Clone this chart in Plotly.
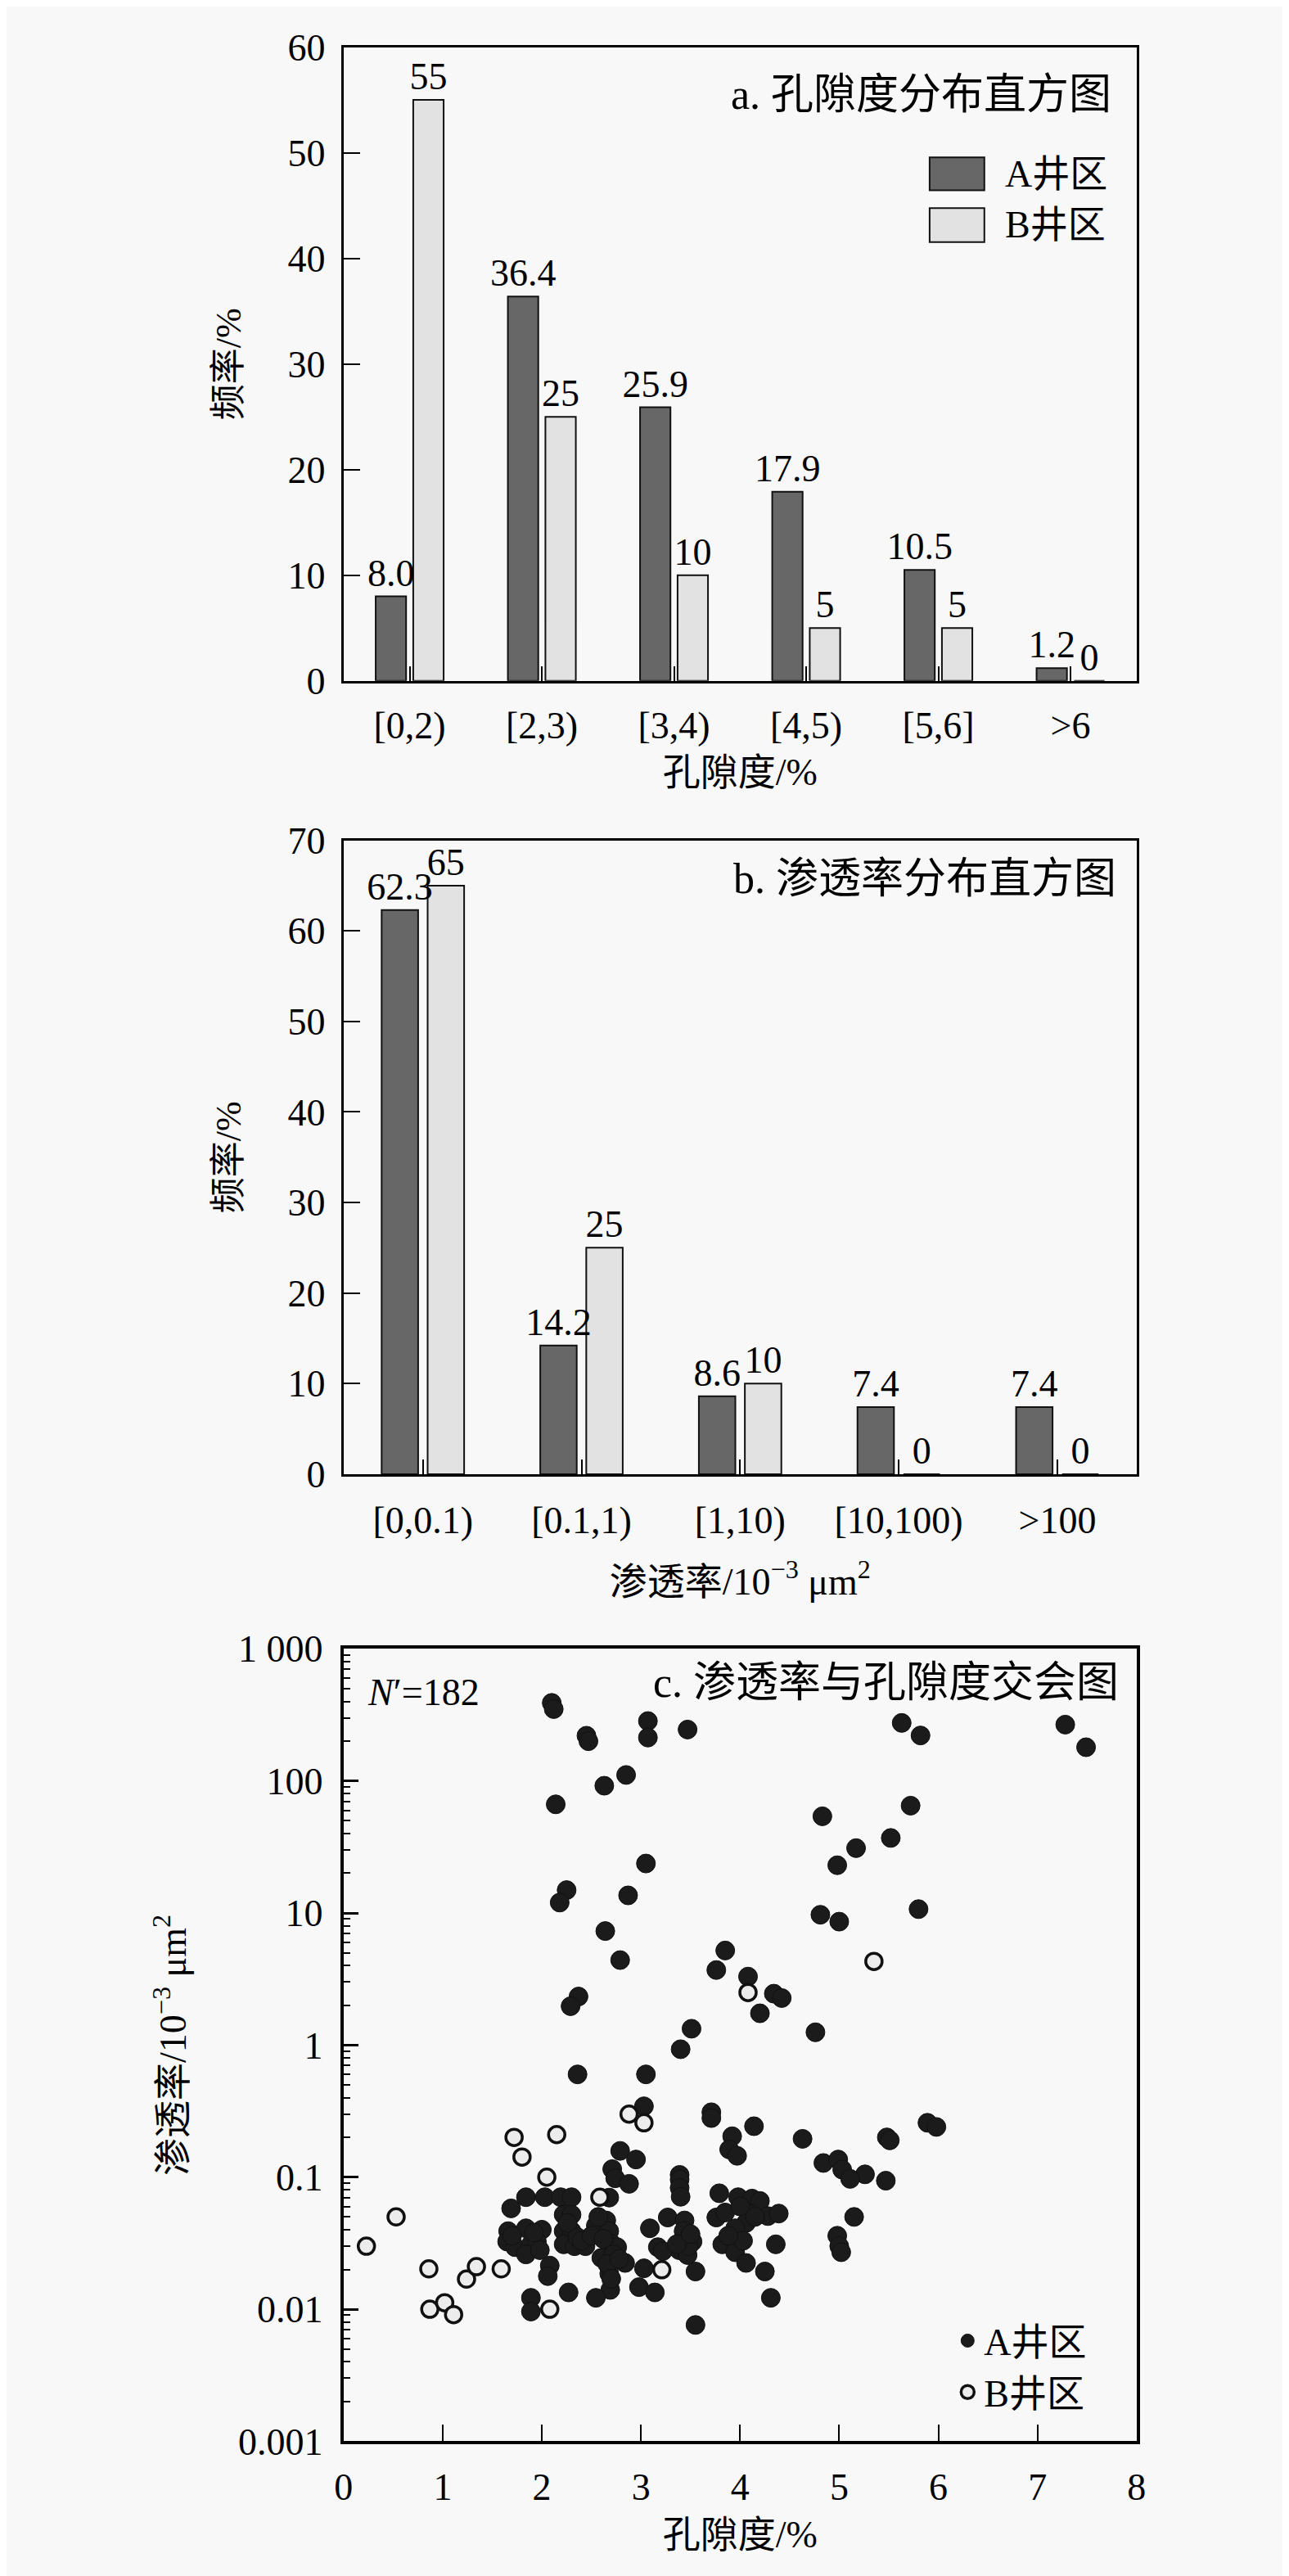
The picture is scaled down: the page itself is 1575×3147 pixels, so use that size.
import plotly.graph_objects as go

# a. porosity histogram (%)
por_bins = ["[0,2)", "[2,3)", "[3,4)", "[4,5)", "[5,6]", ">6"]
por_a = [8.0, 36.4, 25.9, 17.9, 10.5, 1.2]
por_b = [55, 25, 10, 5, 5, 0]

# b. permeability histogram (%)
perm_bins = ["[0,0.1)", "[0.1,1)", "[1,10)", "[10,100)", ">100"]
perm_a = [62.3, 14.2, 8.6, 7.4, 7.4]
perm_b = [65, 25, 10, 0, 0]

# c. crossplot, A well area (porosity %, permeability 10^-3 um2)
a_por = [2.10, 2.12, 2.45, 2.47, 3.07, 3.07, 3.47, 5.63, 5.82, 7.28, 7.49, 2.85,
         2.63, 2.14, 4.83, 5.72, 5.52, 5.17, 4.98, 3.05, 2.25, 2.18, 2.87, 5.80,
         4.81, 5.00, 2.64, 2.79, 3.85, 3.76, 4.08, 4.34, 4.42, 4.20, 2.37, 2.29, 3.51, 4.76,
         3.40, 2.36, 3.05, 3.03, 3.71, 3.71, 4.14, 3.92, 3.89, 3.97, 4.63, 5.48,
         5.51, 5.89, 5.98, 2.79, 2.95, 2.71, 4.84, 4.99, 5.03, 5.26, 3.39,
         2.74, 2.88, 2.68, 1.84, 2.03, 2.19, 2.30, 1.69, 1.66, 1.65,
         1.73, 1.84, 2.00, 1.89, 1.95, 1.84, 2.22, 2.30, 2.22, 2.30,
         2.22, 2.33, 2.44, 2.545, 2.65, 2.68, 2.71, 2.76, 2.60, 2.84,
         2.68, 2.69, 3.03, 3.09, 3.17, 2.08, 2.06, 2.27, 2.545, 1.89,
         1.89, 2.98, 3.14, 3.39, 3.39, 3.40, 3.27, 3.44, 3.44, 3.52,
         3.385, 3.47, 3.22, 3.55, 3.55, 3.79, 3.98, 4.12, 4.20, 3.76,
         3.85, 4.09, 4.06, 4.28, 4.39, 3.95, 3.82, 3.95, 4.06, 4.36,
         4.25, 4.31, 5.15, 4.98, 5.00, 5.02, 5.11, 5.47,
         1.70, 1.92, 2.26, 2.36, 2.40, 2.50, 2.57, 2.62, 2.72, 2.66,
         2.78, 2.70, 3.43, 3.48, 3.36, 3.50, 4.00, 4.03, 3.88, 4.15, 1.98]
a_perm = [390, 350, 220, 200, 284, 213, 245, 275, 221, 267, 180, 111,
          92, 66.5, 54, 65, 37, 31, 23, 23.7, 14.9, 12, 13.6, 10.7,
          9.7, 8.6, 7.3, 4.4, 5.2, 3.7, 3.3, 2.45, 2.27, 1.74, 2.33, 1.97, 1.33, 1.25,
          0.93, 0.6, 0.6, 0.344, 0.31, 0.28, 0.243, 0.204, 0.162, 0.145, 0.195, 0.2,
          0.19, 0.258, 0.24, 0.158, 0.136, 0.115, 0.128, 0.136, 0.114, 0.105, 0.104,
          0.098, 0.089, 0.070, 0.0705, 0.0705, 0.0705, 0.0705, 0.058, 0.039, 0.0325,
          0.0295, 0.041, 0.040, 0.031, 0.0325, 0.026, 0.052, 0.052, 0.039, 0.039,
          0.031, 0.030, 0.030, 0.043, 0.047, 0.039, 0.031, 0.0295, 0.0245, 0.0224,
          0.0186, 0.014, 0.0204, 0.041, 0.0295, 0.0214, 0.0178, 0.0134, 0.0122, 0.0122,
          0.0096, 0.0147, 0.0134, 0.096, 0.083, 0.071, 0.0495, 0.047, 0.034, 0.0325,
          0.028, 0.0257, 0.0275, 0.0193, 0.0076, 0.0755, 0.0705, 0.0688, 0.066, 0.0495,
          0.054, 0.053, 0.045, 0.0507, 0.053, 0.041, 0.031, 0.027, 0.0224, 0.031,
          0.0193, 0.0122, 0.05, 0.036, 0.030, 0.027, 0.097, 0.094,
          0.036, 0.038, 0.045, 0.035, 0.033, 0.036, 0.050, 0.034, 0.026, 0.022,
          0.024, 0.017, 0.039, 0.030, 0.031, 0.037, 0.060, 0.033, 0.036, 0.050, 0.028]

# c. crossplot, B well area
b_por = [0.23, 0.53, 0.86, 0.87, 1.02, 1.11, 1.24, 1.34, 1.59, 1.72,
         1.80, 2.15, 2.05, 2.585, 2.08, 3.21, 2.88, 3.03, 4.08, 5.35]
b_perm = [0.030, 0.05, 0.0202, 0.010, 0.0112, 0.0091, 0.0169, 0.021, 0.0202, 0.2,
          0.142, 0.21, 0.10, 0.0705, 0.0100, 0.0199, 0.30, 0.258, 2.5, 4.3]

W, H = 1575, 3147
FONT = "'Liberation Serif', 'Times New Roman', 'Noto Sans CJK SC', serif"
BG = "#f8f8f8"
A_COL, B_COL = "#676767", "#e2e2e2"
X0, X1 = 406 / W, 1390 / W
BAR_W = 0.23


def ydom(top, bottom):
    return [1 - bottom / H, 1 - top / H]


def bar(cats, vals, col, fmt, off, xa, ya):
    # bars placed by hand-set offset so the A label can sit on top of the B bar
    return go.Bar(x=cats, y=vals, xaxis=xa, yaxis=ya, width=BAR_W, offset=off,
                  marker=dict(color=col, line=dict(color="#111", width=2)),
                  texttemplate=fmt, textposition="outside", cliponaxis=False,
                  constraintext="none", textfont=dict(family=FONT, size=46, color="black"),
                  showlegend=False)


fig = go.Figure()

# B first, then A, so A labels are drawn over the neighbouring B bar
fig.add_trace(bar(por_bins, por_b, B_COL, "%{y}", 0.027, "x", "y"))
fig.add_trace(bar(por_bins, por_a, A_COL, "%{y:.1f}", -0.257, "x", "y"))
fig.add_trace(bar(perm_bins, perm_b, B_COL, "%{y}", 0.03, "x2", "y2"))
fig.add_trace(bar(perm_bins, perm_a, A_COL, "%{y:.1f}", -0.26, "x2", "y2"))

# scatter, panel c
fig.add_trace(go.Scatter(x=a_por, y=a_perm, mode="markers", name="A井区",
                         xaxis="x3", yaxis="y3",
                         marker=dict(size=23, color="#1b1b1b",
                                     line=dict(color="#111", width=1))))
fig.add_trace(go.Scatter(x=b_por, y=b_perm, mode="markers", name="B井区",
                         xaxis="x3", yaxis="y3",
                         marker=dict(size=20, color="#ececec",
                                     line=dict(color="#111", width=3.5))))

axis_common = dict(showline=True, linecolor="black", mirror=True, ticks="inside",
                   tickcolor="black", showgrid=False, zeroline=False,
                   tickfont=dict(family=FONT, size=46, color="black"))

fig.update_layout(
    width=W, height=H,
    margin=dict(l=0, r=0, t=0, b=0),
    paper_bgcolor=BG, plot_bgcolor=BG,
    font=dict(family=FONT, color="black", size=46),
    barmode="overlay",
    xaxis=dict(axis_common, domain=[X0, X1], anchor="y", linewidth=3,
               ticklen=18, tickwidth=2, ticklabelstandoff=12,
               title=dict(text="孔隙度/%", font=dict(family=FONT, size=46), standoff=16)),
    yaxis=dict(axis_common, domain=ydom(25, 812), anchor="x", linewidth=3,
               range=[0, 60], dtick=10, ticklen=20, tickwidth=2, ticklabelstandoff=10,
               title=dict(text="频率/%", font=dict(family=FONT, size=44), standoff=44)),
    xaxis2=dict(axis_common, domain=[X0, X1], anchor="y2", linewidth=3,
                ticklen=18, tickwidth=2, ticklabelstandoff=14,
                title=dict(text="渗透率/10<sup>−3</sup> μm<sup>2</sup>",
                           font=dict(family=FONT, size=46), standoff=34)),
    yaxis2=dict(axis_common, domain=ydom(1010, 1797), anchor="x2", linewidth=3,
                range=[0, 70], dtick=10, ticklen=20, tickwidth=2, ticklabelstandoff=10,
                title=dict(text="频率/%", font=dict(family=FONT, size=44), standoff=44)),
    xaxis3=dict(axis_common, domain=[X0, X1], anchor="y3", linewidth=4,
                range=[0, 8], dtick=1, ticklen=20, tickwidth=2, ticklabelstandoff=12,
                title=dict(text="孔隙度/%", font=dict(family=FONT, size=46), standoff=18)),
    yaxis3=dict(axis_common, domain=ydom(2014, 2998), anchor="x3", linewidth=4,
                type="log", range=[-3, 3], ticklen=18, tickwidth=3, ticklabelstandoff=12,
                tickvals=[0.001, 0.01, 0.1, 1, 10, 100, 1000],
                ticktext=["0.001", "0.01", "0.1", "1", "10", "100", "1 000"],
                minor=dict(ticks="inside", ticklen=8, tickwidth=2, tickcolor="black",
                           dtick="D1", showgrid=False),
                title=dict(text="渗透率/10<sup>−3</sup> μm<sup>2</sup>",
                           font=dict(family=FONT, size=46), standoff=50)),
    legend=dict(x=(1160 - 406) / 984 * (X1 - X0) + X0, y=1 - 2836 / H,
                xanchor="left", yanchor="top", bgcolor="rgba(0,0,0,0)",
                font=dict(family=FONT, size=46), itemsizing="trace",
                tracegroupgap=0),
)

# legend for the histograms, drawn by hand so the swatches can be large
for y0, y1, col, label in [(0.774, 0.826, A_COL, "A井区"),
                           (0.6925, 0.746, B_COL, "B井区")]:
    fig.add_shape(type="rect", xref="x domain", yref="y domain",
                  x0=0.739, x1=0.808, y0=y0, y1=y1,
                  fillcolor=col, line=dict(color="#111", width=2))
    fig.add_annotation(xref="x domain", yref="y domain", x=0.832, y=(y0 + y1) / 2,
                       text=label, showarrow=False, xanchor="left", yanchor="middle",
                       font=dict(family=FONT, size=46))

# panel titles
fig.add_annotation(xref="x domain", yref="y domain", x=0.97, y=0.925,
                   text="a. 孔隙度分布直方图", showarrow=False,
                   xanchor="right", yanchor="middle", font=dict(family=FONT, size=52))
fig.add_annotation(xref="x2 domain", yref="y2 domain", x=0.976, y=0.94,
                   text="b. 渗透率分布直方图", showarrow=False,
                   xanchor="right", yanchor="middle", font=dict(family=FONT, size=52))
fig.add_annotation(xref="x3 domain", yref="y3 domain", x=0.98, y=0.958,
                   text="c. 渗透率与孔隙度交会图", showarrow=False,
                   xanchor="right", yanchor="middle", font=dict(family=FONT, size=52))
fig.add_annotation(xref="x3 domain", yref="y3 domain", x=0.028, y=0.945,
                   text="<i>N</i>′=182", showarrow=False,
                   xanchor="left", yanchor="middle", font=dict(family=FONT, size=46))

fig.write_html("out.html")
